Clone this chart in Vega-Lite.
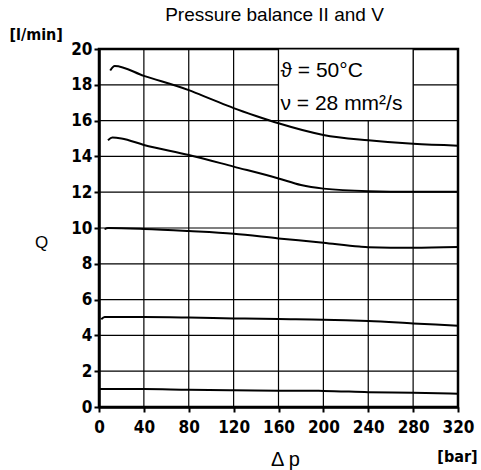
{
  "$schema": "https://vega.github.io/schema/vega-lite/v6.json",
  "width": 359,
  "height": 358,
  "autosize": "none",
  "padding": {"left": 99, "top": 49, "right": 23, "bottom": 63},
  "background": "white",
  "title": {
    "text": "Pressure balance II and V",
    "font": "Liberation Sans",
    "fontSize": 19,
    "fontWeight": "normal",
    "color": "black",
    "anchor": "middle",
    "frame": "group",
    "dx": -4,
    "dy": 2
  },
  "config": {
    "view": {"stroke": "black", "strokeWidth": 2.5},
    "axis": {
      "domainColor": "black",
      "domainWidth": 2.5,
      "tickColor": "black",
      "tickWidth": 2,
      "tickSize": 5,
      "labelColor": "black",
      "labelFont": "DejaVu Sans Condensed, Liberation Sans Narrow, DejaVu Sans",
      "labelFontWeight": "bold",
      "labelFontSize": 17,
      "labelFlush": false,
      "labelOverlap": false,
      "grid": false,
      "titleColor": "black"
    }
  },
  "datasets": {
    "curves": [
      {"s": "A", "p": 10, "q": 18.8},
      {"s": "A", "p": 14, "q": 19.05},
      {"s": "A", "p": 40, "q": 18.5},
      {"s": "A", "p": 80, "q": 17.7},
      {"s": "A", "p": 100, "q": 17.2},
      {"s": "A", "p": 120, "q": 16.7},
      {"s": "A", "p": 140, "q": 16.26},
      {"s": "A", "p": 160, "q": 15.85},
      {"s": "A", "p": 200, "q": 15.2},
      {"s": "A", "p": 240, "q": 14.9},
      {"s": "A", "p": 280, "q": 14.7},
      {"s": "A", "p": 320, "q": 14.6},
      {"s": "B", "p": 8, "q": 14.9},
      {"s": "B", "p": 12, "q": 15.05},
      {"s": "B", "p": 20, "q": 15.0},
      {"s": "B", "p": 40, "q": 14.64},
      {"s": "B", "p": 80, "q": 14.08},
      {"s": "B", "p": 120, "q": 13.43},
      {"s": "B", "p": 160, "q": 12.77},
      {"s": "B", "p": 180, "q": 12.4},
      {"s": "B", "p": 200, "q": 12.2},
      {"s": "B", "p": 240, "q": 12.06},
      {"s": "B", "p": 280, "q": 12.03},
      {"s": "B", "p": 320, "q": 12.03},
      {"s": "C", "p": 5, "q": 9.93},
      {"s": "C", "p": 8, "q": 10.0},
      {"s": "C", "p": 40, "q": 9.95},
      {"s": "C", "p": 80, "q": 9.83},
      {"s": "C", "p": 120, "q": 9.68},
      {"s": "C", "p": 160, "q": 9.42},
      {"s": "C", "p": 200, "q": 9.18},
      {"s": "C", "p": 232, "q": 8.96},
      {"s": "C", "p": 240, "q": 8.93},
      {"s": "C", "p": 280, "q": 8.9},
      {"s": "C", "p": 320, "q": 8.94},
      {"s": "D", "p": 2, "q": 4.9},
      {"s": "D", "p": 5, "q": 5.03},
      {"s": "D", "p": 40, "q": 5.03},
      {"s": "D", "p": 80, "q": 5.0},
      {"s": "D", "p": 120, "q": 4.95},
      {"s": "D", "p": 160, "q": 4.91},
      {"s": "D", "p": 200, "q": 4.88},
      {"s": "D", "p": 240, "q": 4.8},
      {"s": "D", "p": 280, "q": 4.67},
      {"s": "D", "p": 320, "q": 4.54},
      {"s": "E", "p": 0, "q": 1.0},
      {"s": "E", "p": 40, "q": 1.0},
      {"s": "E", "p": 80, "q": 0.96},
      {"s": "E", "p": 120, "q": 0.94},
      {"s": "E", "p": 160, "q": 0.91},
      {"s": "E", "p": 200, "q": 0.9},
      {"s": "E", "p": 240, "q": 0.83},
      {"s": "E", "p": 280, "q": 0.8},
      {"s": "E", "p": 320, "q": 0.74}
    ],
    "vgrid": [
      {"p": 40, "q": 0, "q2": 20},
      {"p": 80, "q": 0, "q2": 20},
      {"p": 120, "q": 0, "q2": 20},
      {"p": 160, "q": 0, "q2": 20},
      {"p": 200, "q": 0, "q2": 20},
      {"p": 240, "q": 0, "q2": 20},
      {"p": 280, "q": 0, "q2": 20}
    ],
    "hgrid": [
      {"p": 0, "p2": 320, "q": 2},
      {"p": 0, "p2": 320, "q": 4},
      {"p": 0, "p2": 320, "q": 6},
      {"p": 0, "p2": 320, "q": 8},
      {"p": 0, "p2": 320, "q": 10},
      {"p": 0, "p2": 320, "q": 12},
      {"p": 0, "p2": 320, "q": 14},
      {"p": 0, "p2": 320, "q": 16},
      {"p": 0, "p2": 320, "q": 18}
    ],
    "note": [
      {"p": 160, "p2": 280, "q": 20, "q2": 16, "label": "ϑ = 50°C\nν = 28 mm²/s"}
    ],
    "units": [
      {"label": "[l/min]", "p": -56, "q": 20.8},
      {"label": "[bar]", "p": 319.5, "q": -2.82}
    ]
  },
  "encoding": {
    "x": {
      "field": "p", "type": "quantitative",
      "scale": {"domain": [0, 320], "nice": false, "zero": false},
      "axis": {
        "orient": "bottom", "values": [0, 40, 80, 120, 160, 200, 240, 280, 320], "labelPadding": 7,
        "title": "Δ p", "titleX": 186, "titleY": 58, "titleAlign": "center", "titleBaseline": "alphabetic",
        "titleFont": "Liberation Sans", "titleFontWeight": "normal", "titleFontSize": 20
      }
    },
    "y": {
      "field": "q", "type": "quantitative",
      "scale": {"domain": [0, 20], "nice": false, "zero": false},
      "axis": {
        "orient": "left", "tickCount": 10, "labelPadding": 2,
        "title": "Q", "titleAngle": 0, "titleX": -58, "titleY": 193, "titleAlign": "center", "titleBaseline": "middle",
        "titleFont": "Liberation Sans", "titleFontWeight": "normal", "titleFontSize": 17
      }
    }
  },
  "layer": [
    {
      "data": {"name": "vgrid"},
      "mark": {"type": "rule", "color": "black", "strokeWidth": 1.2},
      "encoding": {
        "y2": {"field": "q2"}
      }
    },
    {
      "data": {"name": "hgrid"},
      "mark": {"type": "rule", "color": "black", "strokeWidth": 1.2},
      "encoding": {
        "x2": {"field": "p2"}
      }
    },
    {
      "data": {"name": "curves"},
      "mark": {"type": "line", "color": "black", "strokeWidth": 2, "interpolate": "monotone"},
      "encoding": {
        "detail": {"field": "s", "type": "nominal"}
      }
    },
    {
      "data": {"name": "note"},
      "mark": {"type": "rect", "fill": "white", "stroke": "black", "strokeWidth": 1.2},
      "encoding": {
        "x2": {"field": "p2"},
        "y2": {"field": "q2"}
      }
    },
    {
      "data": {"name": "note"},
      "mark": {"type": "text", "align": "left", "baseline": "top", "dx": 2, "dy": 11, "lineBreak": "\n", "lineHeight": 33, "font": "Liberation Sans", "fontSize": 21, "color": "black"},
      "encoding": {
        "text": {"field": "label"}
      }
    },
    {
      "data": {"name": "units"},
      "mark": {"type": "text", "align": "center", "baseline": "middle", "font": "DejaVu Sans Condensed, Liberation Sans Narrow, DejaVu Sans", "fontWeight": "bold", "fontSize": 16, "color": "black", "clip": false},
      "encoding": {
        "text": {"field": "label"}
      }
    }
  ]
}
